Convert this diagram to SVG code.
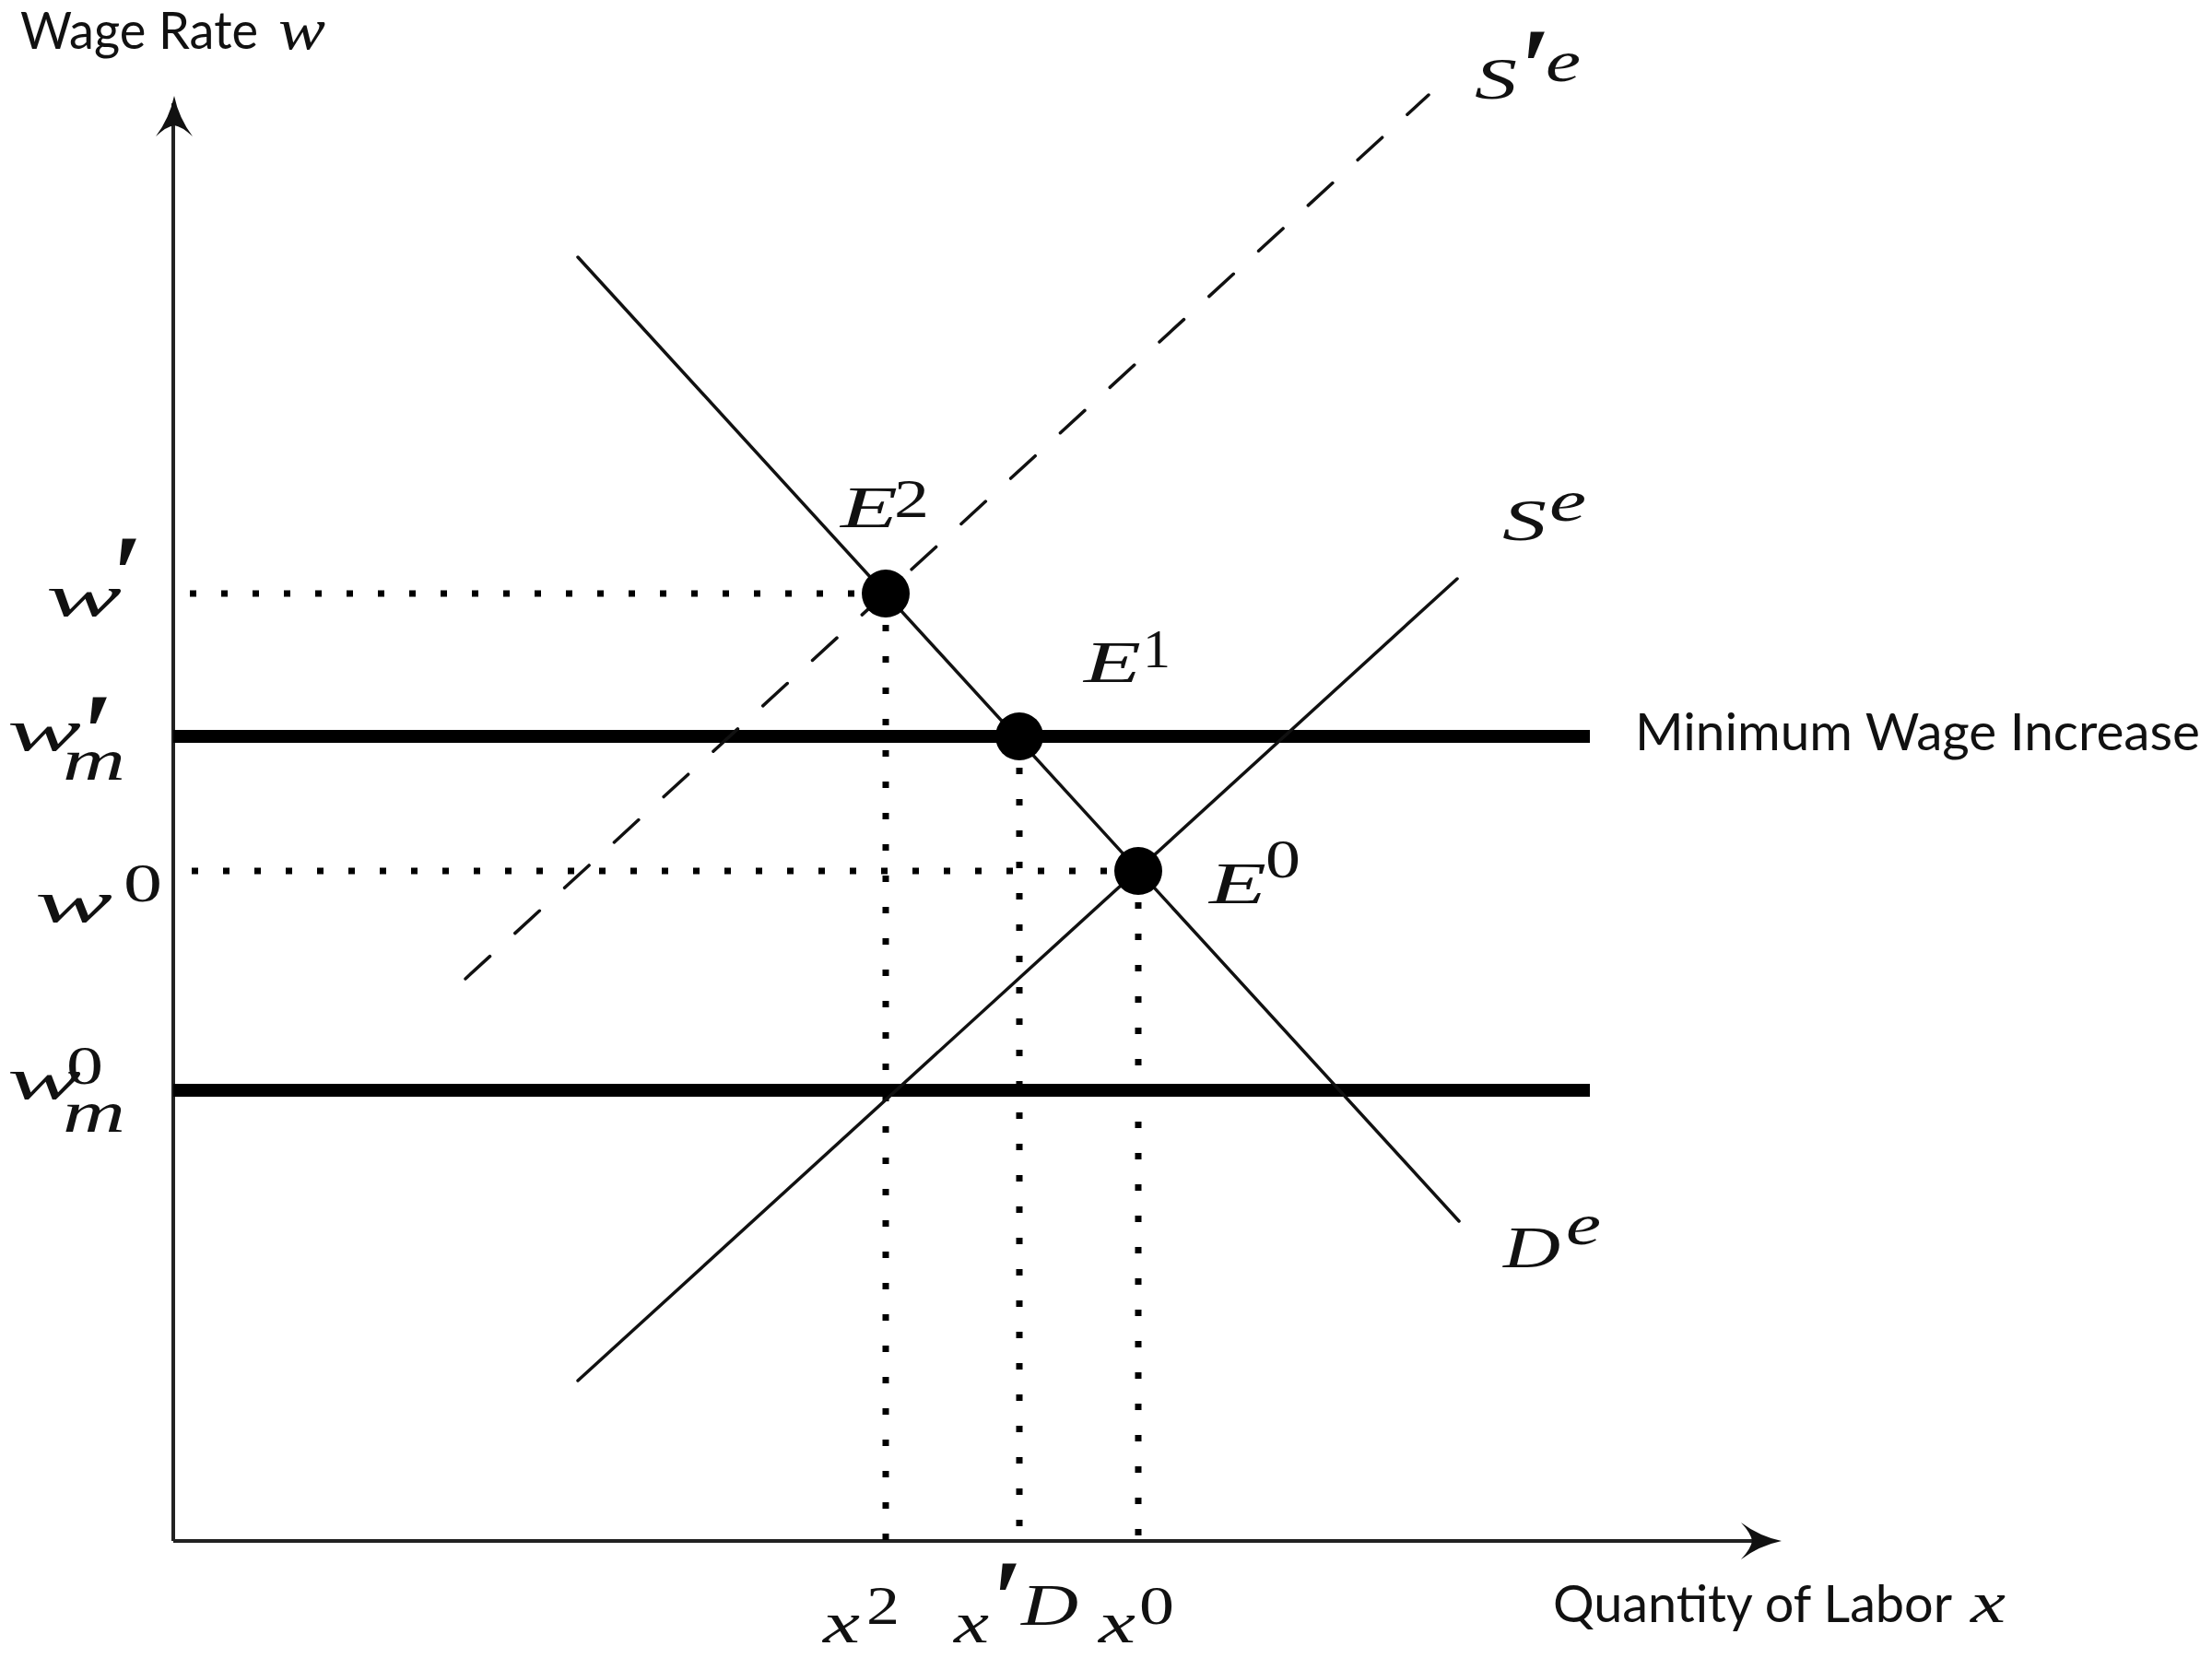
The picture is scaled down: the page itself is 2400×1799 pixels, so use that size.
<svg xmlns="http://www.w3.org/2000/svg" width="2400" height="1799" viewBox="0 0 2400 1799">
<style>
.sans{font-family:"Lato","Open Sans","Liberation Sans",sans-serif;font-size:56px;fill:#111}
.m{font-family:"Liberation Serif","DejaVu Serif",serif;font-style:italic;font-size:64px;fill:#111}
.d{font-family:"Liberation Serif","DejaVu Serif",serif;font-style:normal;font-size:60px;fill:#111}
.pr{font-family:"Liberation Serif","DejaVu Serif",serif;font-style:normal;font-weight:bold;font-size:120px;fill:#111}
.thin{stroke:#111;stroke-width:3.5;fill:none;stroke-linecap:round}
.axis{stroke:#222;stroke-width:4;fill:none}
.thick{stroke:#000;stroke-width:14;fill:none}
.dotted{stroke:#000;stroke-width:7;stroke-dasharray:7 27;fill:none}
.dash{stroke:#111;stroke-width:3.5;stroke-dasharray:36 37;stroke-linecap:round;fill:none}
.pt{fill:#000}
</style>
<defs>
<path id="ah" d="M0,0 Q-24,-5 -44,-20 Q-33,-8 -32,0 Q-33,8 -44,20 Q-24,5 0,0 Z" fill="#111"/>
</defs>
<rect width="2400" height="1799" fill="#fff"/>
<g id="axes">
<line class="axis" x1="188" y1="1672" x2="188" y2="112"/>
<line class="axis" x1="188" y1="1672" x2="1925" y2="1672"/>
<use href="#ah" transform="translate(189,104) rotate(-90)"/>
<use href="#ah" transform="translate(1933,1672)"/>
<text class="sans" font-size="52" y="53"><tspan x="22" textLength="258" lengthAdjust="spacingAndGlyphs">Wage Rate</tspan><tspan class="m" font-size="52" x="302" textLength="51" lengthAdjust="spacingAndGlyphs">w</tspan></text>
<text class="sans" y="1760"><tspan x="1685" textLength="433" lengthAdjust="spacingAndGlyphs">Quantity of Labor</tspan><tspan class="m" font-size="58" x="2138" textLength="38" lengthAdjust="spacingAndGlyphs">x</tspan></text>
</g>
<g id="connectors">
<line class="dotted" x1="961" y1="644" x2="188" y2="644"/>
<line class="dotted" x1="1235" y1="945" x2="188" y2="945"/>
<line class="dotted" x1="961" y1="644" x2="961" y2="1672"/>
<line class="dotted" x1="1106" y1="799" x2="1106" y2="1672"/>
<line class="dotted" x1="1235" y1="945" x2="1235" y2="1672"/>
<line class="thick" x1="188" y1="799" x2="1725" y2="799"/>
<line class="thick" x1="188" y1="1183" x2="1725" y2="1183"/>
<line id="demand" class="thin" x1="627" y1="279" x2="1583" y2="1325"/>
<line id="supply" class="thin" x1="627" y1="1498" x2="1581" y2="628"/>
<path id="supply2" class="dash" d="M505,1062 L1550,103"/>
</g>
<g id="E2">
<circle class="pt" cx="961" cy="644" r="26"/>
<text class="m"><tspan x="912" y="572" textLength="62" lengthAdjust="spacingAndGlyphs">E</tspan><tspan class="d" x="970" y="561" textLength="38" lengthAdjust="spacingAndGlyphs">2</tspan></text>
</g>
<g id="E1">
<circle class="pt" cx="1106" cy="799" r="26"/>
<text class="m"><tspan x="1176" y="740" textLength="62" lengthAdjust="spacingAndGlyphs">E</tspan><tspan class="d" x="1240" y="724" textLength="30" lengthAdjust="spacingAndGlyphs">1</tspan></text>
</g>
<g id="E0">
<circle class="pt" cx="1235" cy="945" r="26"/>
<text class="m"><tspan x="1312" y="980" textLength="62" lengthAdjust="spacingAndGlyphs">E</tspan><tspan class="d" x="1373" y="952" textLength="38" lengthAdjust="spacingAndGlyphs">0</tspan></text>
</g>
<g id="label-Sprime">
<text class="m"><tspan x="1600" y="107" textLength="46" lengthAdjust="spacingAndGlyphs">S</tspan><tspan class="pr" x="1650" y="114">′</tspan><tspan x="1677" y="88" textLength="38" lengthAdjust="spacingAndGlyphs">e</tspan></text>
</g>
<g id="label-S">
<text class="m"><tspan x="1630" y="586" textLength="48" lengthAdjust="spacingAndGlyphs">S</tspan><tspan x="1681" y="565" textLength="40" lengthAdjust="spacingAndGlyphs">e</tspan></text>
</g>
<g id="label-D">
<text class="m"><tspan x="1631" y="1375" textLength="62" lengthAdjust="spacingAndGlyphs">D</tspan><tspan x="1699" y="1350" textLength="38" lengthAdjust="spacingAndGlyphs">e</tspan></text>
</g>
<g id="label-min">
<text class="sans" x="1774" y="814" textLength="613" lengthAdjust="spacingAndGlyphs">Minimum Wage Increase</text>
</g>
<g id="ylabels">
<text class="m"><tspan x="50" y="668" textLength="82" lengthAdjust="spacingAndGlyphs">w</tspan><tspan class="pr" x="122" y="664">′</tspan></text>
<text class="m"><tspan x="8" y="814" textLength="80" lengthAdjust="spacingAndGlyphs">w</tspan><tspan class="pr" x="90" y="836">′</tspan><tspan x="68" y="846" textLength="68" lengthAdjust="spacingAndGlyphs">m</tspan></text>
<text class="m"><tspan x="38" y="1000" textLength="84" lengthAdjust="spacingAndGlyphs">w</tspan><tspan class="d" x="134" y="978" textLength="42" lengthAdjust="spacingAndGlyphs">0</tspan></text>
<text class="m"><tspan x="8" y="1192" textLength="80" lengthAdjust="spacingAndGlyphs">w</tspan><tspan class="d" x="72" y="1176" textLength="40" lengthAdjust="spacingAndGlyphs">0</tspan><tspan x="68" y="1228" textLength="68" lengthAdjust="spacingAndGlyphs">m</tspan></text>
</g>
<g id="xlabels">
<text class="m"><tspan x="893" y="1782" textLength="40" lengthAdjust="spacingAndGlyphs">x</tspan><tspan class="d" x="940" y="1762" textLength="36" lengthAdjust="spacingAndGlyphs">2</tspan></text>
<text class="m"><tspan x="1035" y="1782" textLength="38" lengthAdjust="spacingAndGlyphs">x</tspan><tspan class="pr" font-size="100" x="1077" y="1776">′</tspan><tspan x="1108" y="1763" textLength="62" lengthAdjust="spacingAndGlyphs">D</tspan></text>
<text class="m"><tspan x="1192" y="1782" textLength="40" lengthAdjust="spacingAndGlyphs">x</tspan><tspan class="d" x="1236" y="1762" textLength="38" lengthAdjust="spacingAndGlyphs">0</tspan></text>
</g>
</svg>
